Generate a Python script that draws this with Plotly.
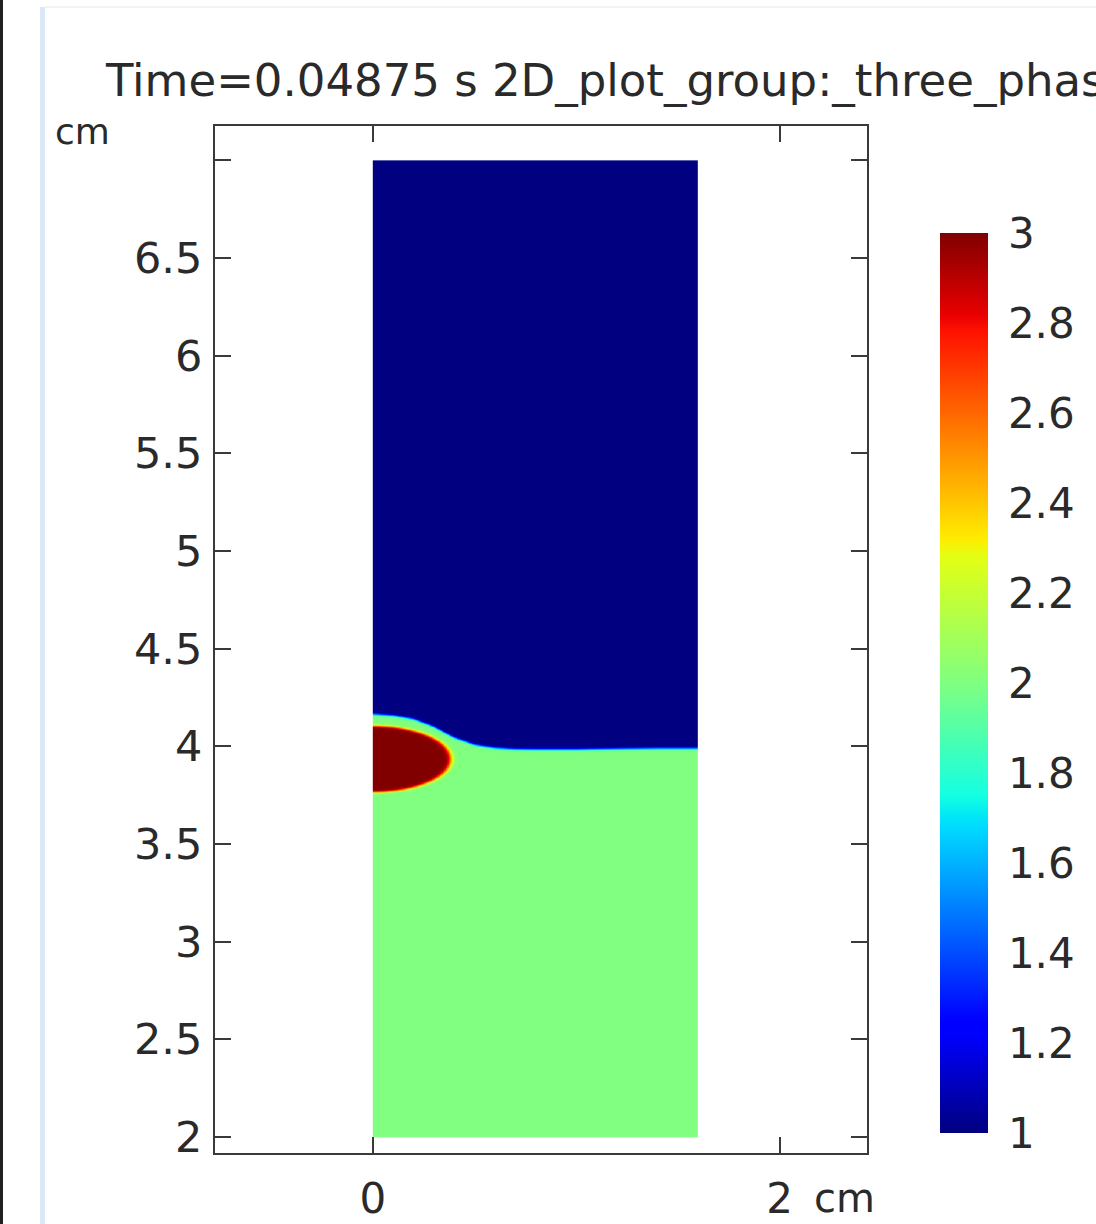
import numpy as np
import plotly.graph_objects as go

# ---- data ----
domain_x = [0.0, 1.6]          # cm
domain_y = [2.0, 7.0]          # cm
# liquid/gas interface profile (x, y) in cm
interface_x = [0.0, 0.10, 0.20, 0.30, 0.40, 0.50, 0.60, 0.70, 0.80, 1.00, 1.20, 1.40, 1.60]
interface_y = [4.165, 4.158, 4.140, 4.100, 4.045, 4.008, 3.992, 3.986, 3.985, 3.985, 3.988, 3.990, 3.990]
# droplet (phase 3) ellipse: centre x, centre y, semi-axis x, semi-axis y
drop_cx, drop_cy, drop_ax, drop_ay = [0.0], [3.935], [0.385], [0.17]
phase_values = [1, 2, 3]       # gas, liquid, droplet
cbar_ticks = [1, 1.2, 1.4, 1.6, 1.8, 2, 2.2, 2.4, 2.6, 2.8, 3]
y_ticks = [2, 2.5, 3, 3.5, 4, 4.5, 5, 5.5, 6, 6.5, 7]
y_ticklabels = ["2", "2.5", "3", "3.5", "4", "4.5", "5", "5.5", "6", "6.5", ""]
x_ticks = [0, 2]
x_ticklabels = ["0", "2"]
title_text = "Time=0.04875 s 2D_plot_group:_three_phas"

# ---- build field on a grid (edges) ----
dx = 0.003
xe = np.arange(domain_x[0], domain_x[1] + 1e-9, dx)
ye = np.concatenate([
    np.arange(domain_y[0], 3.6, 0.1),
    np.arange(3.6, 4.3, 0.003),
    np.arange(4.3, domain_y[1] + 1e-9, 0.1),
])
xc = 0.5 * (xe[:-1] + xe[1:])
yc = 0.5 * (ye[:-1] + ye[1:])
X, Y = np.meshgrid(xc, yc)
eps = 0.007
yi = np.interp(X, interface_x, interface_y)
s_liq = 0.5 * (1 + np.tanh((yi - Y) / eps))
z = phase_values[0] + (phase_values[1] - phase_values[0]) * s_liq
r = np.sqrt(((X - drop_cx[0]) / drop_ax[0]) ** 2 + ((Y - drop_cy[0]) / drop_ay[0]) ** 2)
s_drop = 0.5 * (1 + np.tanh((1 - r) * drop_ay[0] / eps))
# the droplet sits inside the liquid phase (thin liquid film around it)
z = np.maximum(z, phase_values[1] * (0.5 * (1 + np.tanh((1.1 - r) * drop_ay[0] / eps))))
z = z + (phase_values[2] - z) * s_drop
z = np.round(z, 3)

jet = [
    [0.0, "rgb(0,0,128)"], [0.11, "rgb(0,0,255)"], [0.125, "rgb(0,0,255)"],
    [0.34, "rgb(0,219,255)"], [0.35, "rgb(0,229,247)"], [0.375, "rgb(20,255,226)"],
    [0.5, "rgb(128,255,128)"], [0.64, "rgb(226,255,20)"], [0.66, "rgb(255,236,0)"],
    [0.89, "rgb(255,18,0)"], [0.91, "rgb(232,0,0)"], [1.0, "rgb(128,0,0)"],
]

FONT = "DejaVu Sans"
TXT = "#2a2a2a"
W, H = 652, 1027                     # plot-area size in px
CB_X0, CB_X1 = 940, 988              # colourbar horizontal extent (px)
CB_Y0, CB_Y1 = 233, 1133             # colourbar vertical extent (px, top / bottom)
cb_len = (CB_Y1 - CB_Y0) / H
cb_mid = 1 - ((CB_Y0 + CB_Y1) / 2 - 126) / H

fig = go.Figure()
fig.add_trace(go.Heatmap(
    x=xe, y=ye, z=z, zmin=1, zmax=3, colorscale=jet,
    hoverinfo="skip",
    colorbar=dict(
        x=(CB_X0 - 215) / W, xanchor="left", xref="paper",
        y=cb_mid, yanchor="middle", len=cb_len, lenmode="fraction", ypad=0, xpad=0,
        thickness=CB_X1 - CB_X0, outlinewidth=0,
        tickvals=cbar_ticks, ticktext=[f"{v:g}" for v in cbar_ticks],
        ticks="outside", ticklen=12, tickcolor="rgba(255,255,255,0)", tickwidth=1,
        tickfont=dict(family=FONT, size=42, color=TXT),
    ),
))

axis_common = dict(
    showgrid=False, zeroline=False, showline=True, linecolor="#3a3a3a", linewidth=2,
    mirror="ticks", ticks="inside", ticklen=16, tickcolor="#3a3a3a", tickwidth=2,
    automargin=False,
)
fig.update_layout(
    width=1096, height=1224,
    margin=dict(l=215, r=229, t=126, b=71, autoexpand=False),
    paper_bgcolor="white", plot_bgcolor="white",
    xaxis=dict(range=[-0.776, 2.43], tickvals=x_ticks, ticktext=x_ticklabels, ticklabelstandoff=8,
               tickfont=dict(family=FONT, size=42, color=TXT), **axis_common),
    yaxis=dict(range=[1.918, 7.176], tickvals=y_ticks, ticktext=y_ticklabels, ticklabelstandoff=2,
               tickfont=dict(family=FONT, size=43, color=TXT), **axis_common),
    font=dict(family=FONT, color=TXT),
    showlegend=False,
)

# white tick marks on both edges of the colourbar
for v in cbar_ticks[1:-1]:
    yp = 1 - (CB_Y1 - (v - cbar_ticks[0]) / (cbar_ticks[-1] - cbar_ticks[0]) * (CB_Y1 - CB_Y0) - 126) / H
    for xa, xb in [(CB_X0, CB_X0 + 9), (CB_X1 - 9, CB_X1)]:
        fig.add_shape(type="line", xref="paper", yref="paper", x0=(xa - 215) / W, x1=(xb - 215) / W,
                      y0=yp, y1=yp, line=dict(color="rgba(255,255,255,0.85)", width=2), layer="above")

fig.add_annotation(xref="paper", yref="paper", x=(103 - 215) / W, y=1 + (126 - 80) / H, xanchor="left", yanchor="middle",
                   text=title_text, showarrow=False, font=dict(family=FONT, size=45, color=TXT))
fig.add_annotation(xref="paper", yref="paper", x=(53 - 215) / W, y=1 + (126 - 131) / H, xanchor="left", yanchor="middle",
                   text="cm", showarrow=False, font=dict(family=FONT, size=36, color=TXT))
fig.add_annotation(xref="paper", yref="paper", x=(812 - 215) / W, y=-(1198 - 1153) / H, xanchor="left", yanchor="middle",
                   text="cm", showarrow=False, font=dict(family=FONT, size=40, color=TXT))

# page decoration (screenshot frame)
fig.add_shape(type="rect", xref="paper", yref="paper", x0=-215 / W, x1=-212 / W, y0=-71 / H, y1=1 + 126 / H,
              line=dict(width=0), fillcolor="#222222", layer="above")
fig.add_shape(type="rect", xref="paper", yref="paper", x0=-175 / W, x1=-170 / W, y0=-71 / H, y1=1 + 119 / H,
              line=dict(width=0), fillcolor="#dbe8f6", layer="above")
fig.add_shape(type="rect", xref="paper", yref="paper", x0=-170 / W, x1=1 + 229 / W, y0=1 + 118 / H, y1=1 + 120 / H,
              line=dict(width=0), fillcolor="#f3f3f3", layer="above")

fig.write_html("out.html", config={"displayModeBar": False},
               post_script="document.body.style.margin='0';")
